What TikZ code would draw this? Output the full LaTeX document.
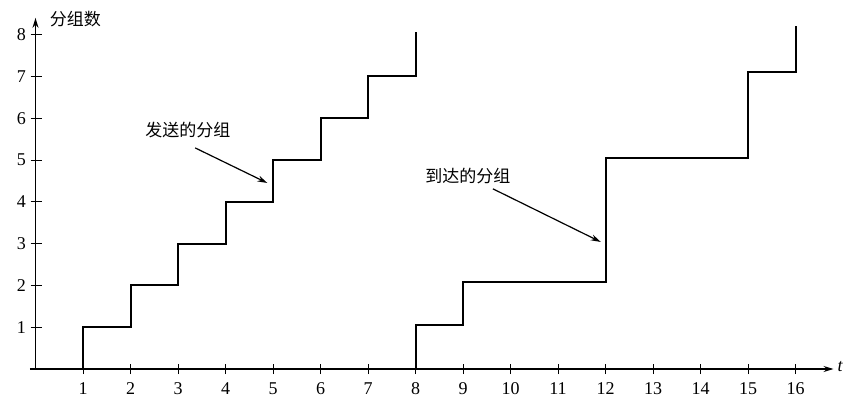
\documentclass[tikz,border=0pt]{standalone}
\usepackage{fontspec}
\setmainfont{Liberation Serif}
\newfontfamily\cjk{Noto Sans CJK SC}
\usetikzlibrary{arrows.meta}
\begin{document}
\begin{tikzpicture}[x=47.5pt,y=41.8pt,
  axis/.style={line width=1.3pt,-{Stealth[length=10pt,width=6pt]}},
  tick/.style={line width=1pt},
  stair/.style={line width=2pt,line join=miter},
  pointer/.style={line width=1.2pt,-{Stealth[length=10pt,width=6pt]}},
  lbl/.style={font=\fontsize{17}{17}\selectfont\cjk,inner sep=0pt},
  num/.style={font=\fontsize{18}{18}\selectfont,inner sep=0pt}]
\useasboundingbox (-35.5pt,-39pt) rectangle (810.5pt,369pt);
% axes
\coordinate (O) at (0,0);
\coordinate (xs) at (-0.12,0);
\coordinate (xe) at (16.8,0);
\coordinate (ye) at (0,8.4);
\draw[axis] (xs) -- (xe);
\draw[axis] (O) -- (ye);
\node[num,font=\fontsize{18}{18}\selectfont\itshape,anchor=west] (tlab) at (16.88,0.05) {t};
\node[lbl,anchor=west] (ylab) at (0.3,8.38) {分组数};
% ticks
\foreach \i in {1,...,16}{
  \draw[tick] (\i,-0.12) -- (\i,0.12);
  \node[num] (x\i) at (\i,-0.46) {\i};
}
\foreach \j in {1,...,8}{
  \draw[tick] (-0.1,\j) -- (0.13,\j);
  \node[num,anchor=east] (y\j) at (-0.2,\j) {\j};
}
% sent packets
\draw[stair] (1,0) -- (1,1) -- (2,1) -- (2,2) -- (3,2) -- (3,3) -- (4,3) -- (4,4)
  -- (5,4) -- (5,5) -- (6,5) -- (6,6) -- (7,6) -- (7,7) -- (8,7) -- (8,8.06);
% arrived packets
\draw[stair] (8,0) -- (8,1.05) -- (9,1.05) -- (9,2.08) -- (12,2.08) -- (12,5.05)
  -- (15,5.05) -- (15,7.1) -- (16,7.1) -- (16,8.2);
% labels
\node[lbl] (sent) at (3.21,5.72) {发送的分组};
\coordinate (sentS) at (3.36,5.29);
\coordinate (sentE) at (4.88,4.45);
\draw[pointer] (sentS) -- (sentE);
\node[lbl] (arr) at (9.1,4.62) {到达的分组};
\coordinate (arrS) at (9.63,4.31);
\coordinate (arrE) at (11.9,3.04);
\draw[pointer] (arrS) -- (arrE);
\end{tikzpicture}
\end{document}
